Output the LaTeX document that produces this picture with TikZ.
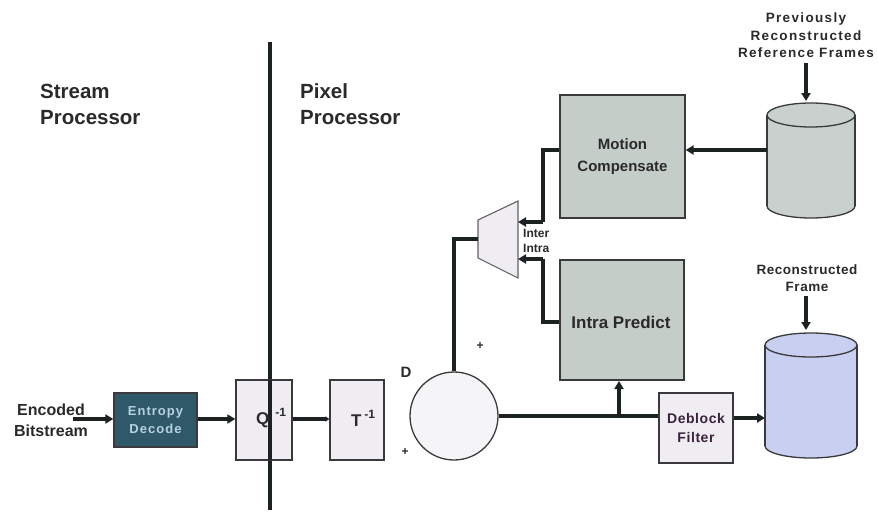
\documentclass[tikz,border=0pt]{standalone}
\usepackage{fontspec}
\setmainfont{Liberation Sans}
\usetikzlibrary{arrows.meta}
\definecolor{wirecol}{HTML}{1C2222}
\definecolor{boxline}{HTML}{3A3A3A}
\definecolor{entfill}{HTML}{2F5868}
\definecolor{enttext}{HTML}{B9D2E0}
\definecolor{lightfill}{HTML}{EFEDF1}
\definecolor{grayfill}{HTML}{C5CDC9}
\definecolor{cylgray}{HTML}{C9D0CD}
\definecolor{cylblue}{HTML}{C9CFF1}
\definecolor{txt}{HTML}{2A2A2A}
\begin{document}
\begin{tikzpicture}[x=1pt,y=-1pt,
  box/.style={draw=boxline,line width=1.4pt,inner sep=0pt},
  wire/.style={line width=3.2pt,draw=wirecol},
  arr/.style={wire,-{Triangle[length=8pt,width=9pt]}},
  lbl/.style={text=txt,align=center,inner sep=0pt,font=\bfseries},
  cylpart/.style={draw=boxline,line width=1.3pt}]
\useasboundingbox (0,0) rectangle (878,512);
\fill[white] (0,0) rectangle (878,512);

% divider
\draw[line width=3.2pt,draw=wirecol] (270,42) coordinate (divtop) -- (270,510) coordinate (divbot);

% headings
\node[lbl,align=left,anchor=west,font=\fontsize{20.5}{26}\selectfont\bfseries] (sp) at (40,104) {Stream\\Processor};
\node[lbl,align=left,anchor=west,font=\fontsize{20.5}{26}\selectfont\bfseries] (pp) at (300,104) {Pixel\\Processor};

% input text
\node[lbl,font=\fontsize{16}{21}\selectfont\bfseries] (enc) at (51,420) {Encoded\\Bitstream};
\coordinate (encout) at (73,419);

% boxes
\node[box,fill=entfill,text=enttext,minimum width=83pt,minimum height=54pt,align=center,
  font=\fontsize{13}{18}\selectfont\bfseries\addfontfeature{LetterSpace=8}] (ent) at (155.5,420) {Entropy\\Decode};
\node[box,fill=lightfill,minimum width=56pt,minimum height=80pt] (q) at (264,420) {};
\node[box,fill=lightfill,minimum width=54pt,minimum height=80pt] (t) at (357,420) {};
\node[lbl,font=\fontsize{17}{18}\selectfont\bfseries] (tt) at (363,418) {T\,\raisebox{8pt}{\fontsize{12}{12}\selectfont -1}};
% redraw divider over Q box
\draw[line width=3.2pt,draw=wirecol] (270,380) -- (270,460);
\node[lbl,font=\fontsize{17}{18}\selectfont\bfseries] (qt) at (271,418) {Q\hspace{6pt}\raisebox{8pt}{\fontsize{12}{12}\selectfont -1}};

\node[box,fill=grayfill,minimum width=125pt,minimum height=123pt,align=center,text=txt,
  font=\fontsize{15}{22}\selectfont\bfseries] (mc) at (622.5,156.5) {Motion\\Compensate};
\node[box,fill=grayfill,minimum width=124pt,minimum height=120pt] (ip) at (622,320) {};
\node[lbl,font=\fontsize{17}{18}\selectfont\bfseries] (ipt) at (621,322) {Intra Predict};
\node[box,fill=lightfill,minimum width=74pt,minimum height=70pt,align=center,text=txt!80!violet,
  font=\fontsize{14}{19}\selectfont\bfseries\addfontfeature{LetterSpace=4}] (db) at (696,428) {Deblock\\Filter};

% summation circle
\node[draw=boxline,line width=1.3pt,fill=lightfill!60!white,circle,minimum size=88pt,inner sep=0pt] (sum) at (454,416) {};
\node[lbl,font=\fontsize{15}{16}\selectfont\bfseries] (dl) at (406,372) {D};
\node[lbl,font=\fontsize{12}{12}\selectfont\bfseries] (p1) at (480,346) {+};
\node[lbl,font=\fontsize{12}{12}\selectfont\bfseries] (p2) at (405,452) {+};

% mux
\coordinate (mA) at (478,220);
\coordinate (mB) at (518,201);
\coordinate (mC) at (518,278);
\coordinate (mD) at (478,258);
\draw[draw=boxline!80,line width=1.1pt,fill=lightfill] (mA) -- (mB) -- (mC) -- (mD) -- cycle;
\coordinate (mout) at (478,239);
\coordinate (minter) at (518,222);
\coordinate (mintra) at (518,259);
\node[lbl,anchor=west,font=\fontsize{12}{12}\selectfont\bfseries] (inter) at (523,233) {Inter};
\node[lbl,anchor=west,font=\fontsize{12}{12}\selectfont\bfseries] (intra) at (523,248) {Intra};

% cylinders
\coordinate (c1L) at (767,150);
\fill[cylgray] (767,115) -- (767,206) arc[start angle=180,end angle=360,x radius=44pt,y radius=12pt] -- (855,115) arc[start angle=0,end angle=180,x radius=44pt,y radius=12pt] -- cycle;
\draw[cylpart] (767,115) -- (767,206);
\draw[cylpart] (855,115) -- (855,206);
\draw[cylpart] (811,115) ellipse[x radius=44pt,y radius=12pt];
\draw[cylpart] (767,206) arc[start angle=180,end angle=360,x radius=44pt,y radius=12pt];

\coordinate (c2L) at (765,418);
\fill[cylblue] (765,345) -- (765,446) arc[start angle=180,end angle=360,x radius=46pt,y radius=12pt] -- (857,345) arc[start angle=0,end angle=180,x radius=46pt,y radius=12pt] -- cycle;
\draw[cylpart] (765,345) -- (765,446);
\draw[cylpart] (857,345) -- (857,446);
\draw[cylpart] (811,345) ellipse[x radius=46pt,y radius=12pt];
\draw[cylpart] (765,446) arc[start angle=180,end angle=360,x radius=46pt,y radius=12pt];

% store labels
\node[lbl,font=\fontsize{13.5}{17.5}\selectfont\bfseries\addfontfeature{LetterSpace=10}] (prev) at (806,35.5) {Previously\\Reconstructed\\Reference Frames};
\coordinate (prevarr) at (806,63);
\coordinate (c1top) at (806,101);
\node[lbl,font=\fontsize{13.5}{17}\selectfont\bfseries\addfontfeature{LetterSpace=4}] (rec) at (807,278.5) {Reconstructed\\Frame};
\coordinate (recarr) at (806,296);
\coordinate (c2top) at (806,330);

% connectors
\draw[arr] (encout) -- (ent.west |- encout);
\draw[arr] (ent.east |- encout) -- (q.west |- encout);
\draw[wire,-{Triangle[length=4pt,width=5pt]}] (q.east |- encout) -- (t.west |- encout);
\draw[wire] (sum.north) -- (454,239) -- (mout);
\draw[wire] (sum.east) -- (sum.east -| db.west);
\draw[arr] (619,417) -- (619,381) coordinate (ipb);
\draw[arr] (db.east |- c2L) -- (c2L);
\draw[wire] (mc.west |- 0,150) -- (543,150) -- (543,222);
\draw[arr] (543,222) -- (minter);
\draw[wire] (ip.west |- 0,322) -- (543,322) -- (543,259);
\draw[arr] (543,259) -- (mintra);
\draw[arr] (c1L) -- (mc.east |- 0,150);
\draw[arr] (prevarr) -- (c1top);
\draw[arr] (recarr) -- (c2top);
\end{tikzpicture}
\end{document}
